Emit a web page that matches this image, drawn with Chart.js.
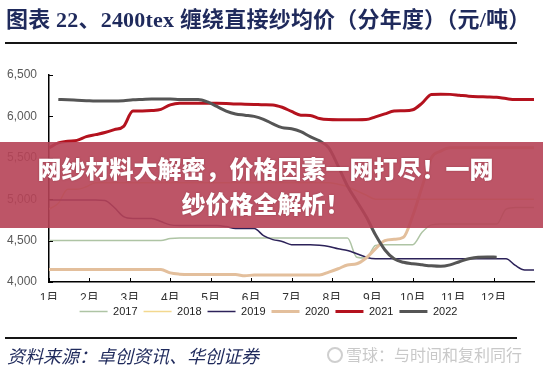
<!DOCTYPE html>
<html>
<head>
<meta charset="utf-8">
<script src="https://cdn.jsdelivr.net/npm/chart.js@4/dist/chart.umd.min.js"></script>
<style>
  html, body { margin: 0; padding: 0; background: #fff; }
  #wrap { position: relative; width: 543px; height: 372px; overflow: hidden; }
  #myChart { position: absolute; left: 0; top: 0; }
  .title { position: absolute; left: 6px; top: 8px; line-height: 24px; font-size: 22px; font-weight: bold; letter-spacing: 0.2px;
           font-family: "Liberation Serif", "Noto Sans CJK SC", serif; color: #1f2a5c; white-space: nowrap; }
  .rule { position: absolute; left: 5px; width: 512px; height: 2px; background: #151515; }
  .source { position: absolute; left: 7px; top: 343px; font-size: 18px; line-height: 24px; font-style: italic;
            font-family: "Noto Sans CJK SC", sans-serif; color: #1f2a5c; white-space: nowrap; }
  .mark { position: absolute; left: 327px; top: 344px; font-size: 16px; line-height: 20px; color: #c9c9c9;
          font-family: "Noto Sans CJK SC", sans-serif; white-space: nowrap; }
  .mark i { display: inline-block; width: 12px; height: 12px; border: 2px solid #cfcfcf; border-radius: 50%;
            vertical-align: -2px; margin-right: 3px; }
  .banner { position: absolute; left: 0; top: 142px; width: 543px; height: 86px; background: rgba(182, 66, 86, 0.9);
            color: #fff; font-family: "Noto Sans CJK SC", sans-serif; font-weight: 900; font-size: 24px;
            line-height: 35px; text-align: center; padding-top: 8px; box-sizing: border-box; padding-right: 12px;
            text-shadow: 0 0 2px rgba(90, 20, 30, 0.4); }
</style>
</head>
<body>
<div id="wrap">
  <canvas id="myChart" width="543" height="372"></canvas>
  <div class="title">图表 22、2400tex 缠绕直接纱均价（分年度）（元/吨）</div>
  <div class="rule" style="top:42px"></div>
  <div class="rule" style="top:337px"></div>
  <div class="source">资料来源：卓创资讯、华创证券</div>
  <div class="mark"><i></i>雪球：与时间和复利同行</div>
  <div class="banner">网纱材料大解密，价格因素一网打尽！一网<br>纱价格全解析！</div>
</div>
<script>
// weekly average price, 53 samples from Jan 1 to Dec 31
var years = ['2017', '2018', '2019', '2020', '2021', '2022'];
var months = ['1月', '2月', '3月', '4月', '5月', '6月', '7月', '8月', '9月', '10月', '11月', '12月'];
var yTicks = [4000, 4500, 5000, 5500, 6000, 6500];

var p2017 = [4500, 4500, 4500, 4500, 4500, 4500, 4500, 4500, 4500, 4500, 4500, 4500, 4500,
  4525, 4530, 4530, 4530, 4530, 4530, 4530, 4530, 4530, 4530, 4530, 4530, 4530, 4530, 4530, 4530, 4530, 4530, 4530, 4530,
  4300, 4290, 4440, 4450, 4450, 4450, 4450, 4600, 4690, 4700, 4700, 4700, 4700, 4700, 4700, 4700,
  4880, 4900, 4900, 4900];
var p2018 = [4880, 4950, 5120, 5120, 5150, 5200,
  5200, 5200, 5200, 5200, 5200, 5200, 5200, 5200, 5200, 5200, 5200, 5200, 5200, 5200, 5200, 5200, 5200, 5200, 5200, 5200,
  5200, 5200, 5200, 5200, 5200,
  5180, 5150, 5100, 5050,
  5000, 5000, 5000, 5000, 5000, 5000, 5000, 5000, 5000, 5000, 5000, 5000, 5000, 5000, 5000, 5000, 5000, 5000];
var p2019 = [4990, 4990, 4990, 4990, 4990, 4990, 4985, 4900, 4790, 4768, 4768, 4768, 4730, 4690,
  4683, 4683, 4683, 4683, 4683, 4670, 4646, 4646, 4646, 4560, 4512, 4490, 4451, 4451, 4451, 4445, 4430, 4402, 4380,
  4341, 4300, 4280, 4280, 4280, 4280, 4280, 4280, 4280, 4280, 4280, 4280, 4280, 4280, 4280, 4280, 4280,
  4200, 4146, 4146];
var p2020 = [4150, 4150, 4150, 4150, 4150, 4150, 4150, 4150, 4150, 4150, 4150, 4150, 4150,
  4110, 4095, 4090, 4090, 4090, 4090, 4090, 4090, 4075, 4085, 4085, 4085, 4085, 4085, 4085, 4085, 4085,
  4120, 4160, 4205, 4220, 4290, 4400, 4500, 4515, 4540, 4800, 5150, 5500, 5580,
  5620, 5620, 5620, 5620, 5620, 5620, 5620, 5620, 5620, 5620];
var p2021 = [5620, 5680, 5700, 5710, 5755, 5780, 5805, 5840, 5880, 6065, 6065, 6070, 6085, 6140,
  6160, 6160, 6160, 6160, 6158, 6155, 6150, 6148, 6145, 6140, 6138, 6110, 6060, 6015, 6012, 5975,
  5962, 5960, 5960, 5960, 5962, 5995, 6030, 6065, 6068, 6080, 6160, 6265, 6268, 6266, 6255, 6244,
  6238, 6235, 6230, 6215, 6204, 6204, 6204];
var p2022 = [null, 6204, 6200, 6195, 6190, 6185, 6185, 6185, 6190, 6200, 6205, 6210, 6210, 6210, 6205, 6205, 6205,
  6175, 6120, 6065, 6030, 6015, 6000, 5965, 5910, 5865, 5850, 5815, 5755, 5705, 5620,
  5400, 5160, 4975, 4790, 4570, 4390, 4280, 4238, 4220, 4207, 4195, 4189, 4207, 4245, 4280, 4300, 4302, 4300,
  null, null, null, null];

var series = [p2017, p2018, p2019, p2020, p2021, p2022];
var lineColors = ['#aec4a4', '#f3d88f', '#2c2259', '#e3bf9c', '#b4121e', '#555555'];
var lineWidths = [1.5, 1.5, 1.5, 3, 3, 3];

function toPoints(values) {
  // week i sits at month position 1 + i*12/52
  return values.map(function (v, i) { return { x: 1 + i * 12 / 52, y: v }; });
}

var datasets = years.map(function (year, k) {
  return {
    label: year,
    data: toPoints(series[k]),
    borderColor: lineColors[k],
    backgroundColor: lineColors[k],
    borderWidth: lineWidths[k],
    pointRadius: 0,
    pointStyle: 'line',
    cubicInterpolationMode: 'monotone',
    order: years.length - k
  };
});

var innerTicks = {
  id: 'innerTicks',
  afterDatasetsDraw: function (chart) {
    var ctx = chart.ctx, xs = chart.scales.x, ys = chart.scales.y;
    ctx.save();
    ctx.strokeStyle = '#000';
    ctx.lineWidth = 1;
    ctx.beginPath();
    xs.ticks.forEach(function (t) {
      if (t.value > 12) return;
      var px = Math.round(xs.getPixelForValue(t.value)) + 0.5;
      ctx.moveTo(px, ys.bottom);
      ctx.lineTo(px, ys.bottom - 4);
    });
    ys.ticks.forEach(function (t) {
      var py = Math.round(ys.getPixelForValue(t.value)) + 0.5;
      ctx.moveTo(xs.left, py);
      ctx.lineTo(xs.left + 4, py);
    });
    ctx.stroke();
    ctx.restore();
  }
};

Chart.defaults.font.family = '"Liberation Sans", Arial, "Noto Sans CJK SC", sans-serif';

var ctx = document.getElementById('myChart').getContext('2d');
var myChart = new Chart(ctx, {
  type: 'line',
  data: { datasets: datasets },
  plugins: [innerTicks],
  options: {
    responsive: false,
    animation: false,
    layout: { padding: { top: 75, left: 0, right: 6, bottom: 45 } },
    plugins: {
      tooltip: { enabled: false },
      legend: {
        position: 'bottom',
        labels: {
          usePointStyle: true,
          pointStyle: 'line',
          pointStyleWidth: 28,
          padding: 6,
          color: '#222',
          font: { size: 11 },
          sort: function (a, b) { return a.datasetIndex - b.datasetIndex; }
        }
      }
    },
    scales: {
      x: {
        type: 'linear',
        min: 1,
        max: 13,
        afterFit: function (scale) { scale.height = 18; },
        grid: { drawOnChartArea: false, drawTicks: false },
        border: { display: true, color: '#000', width: 1.5 },
        ticks: {
          stepSize: 1,
          padding: 9,
          color: '#333',
          font: { size: 12 },
          maxRotation: 0,
          callback: function (v) { return v <= 12 ? months[v - 1] : ''; }
        }
      },
      y: {
        min: yTicks[0],
        max: yTicks[yTicks.length - 1],
        afterFit: function (scale) { scale.width = 49; },
        grid: { drawOnChartArea: false, drawTicks: false },
        border: { display: true, color: '#000', width: 1.5 },
        ticks: {
          stepSize: 500,
          padding: 12,
          color: '#595959',
          font: { size: 12 },
          callback: function (v) { return v.toLocaleString('en-US'); }
        }
      }
    }
  }
});
</script>
</body>
</html>
